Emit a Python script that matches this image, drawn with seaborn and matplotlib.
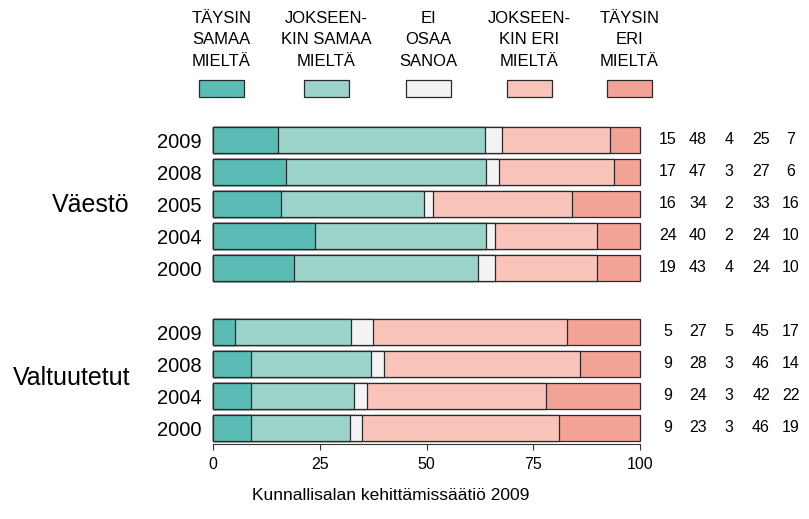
import matplotlib
matplotlib.use("Agg")
import matplotlib.pyplot as plt
from matplotlib.patches import Rectangle
import numpy as np
import pandas as pd
import seaborn as sns

# Survey answers (%), rows top to bottom: population then council members
groups = ["Väestö", "Valtuutetut"]
years_vaesto = ["2009", "2008", "2005", "2004", "2000"]
years_valtuutetut = ["2009", "2008", "2004", "2000"]

taysin_samaa = [15, 17, 16, 24, 19, 5, 9, 9, 9]
jokseenkin_samaa = [48, 47, 34, 40, 43, 27, 28, 24, 23]
ei_osaa = [4, 3, 2, 2, 4, 5, 3, 3, 3]
jokseenkin_eri = [25, 27, 33, 24, 24, 45, 46, 42, 46]
taysin_eri = [7, 6, 16, 10, 10, 17, 14, 22, 19]

answer_labels = [
    "TÄYSIN\nSAMAA\nMIELTÄ",
    "JOKSEEN-\nKIN SAMAA\nMIELTÄ",
    "EI\nOSAA\nSANOA",
    "JOKSEEN-\nKIN ERI\nMIELTÄ",
    "TÄYSIN\nERI\nMIELTÄ",
]
colors = ["#5bbcb6", "#9bd3cb", "#f3f3f3", "#f8c4ba", "#f3a395"]
source = "Kunnallisalan kehittämissäätiö 2009"

W, H = 809, 519
sns.set_style("white")
plt.rcParams["font.family"] = ["Liberation Sans", "DejaVu Sans"]
plt.rcParams["text.color"] = "black"
plt.rcParams["xtick.color"] = "black"
plt.rcParams["ytick.color"] = "black"

fig = plt.figure(figsize=(W / 100, H / 100), dpi=100)


def fx(px):
    return px / W


def fy(py):
    return 1 - py / H


ax = fig.add_axes([fx(213), fy(444), fx(640) - fx(213), fy(124) - fy(444)])

# Row positions with one empty slot between the two groups
positions = list(range(len(years_vaesto))) + [
    len(years_vaesto) + 1 + i for i in range(len(years_valtuutetut))
]
year_labels = years_vaesto + years_valtuutetut

series = np.array([taysin_samaa, jokseenkin_samaa, ei_osaa, jokseenkin_eri, taysin_eri], dtype=float)
shares = series / series.sum(axis=0) * 100
cumulative = np.cumsum(shares, axis=0)

# Stacked bars: draw the widest cumulative bar first, narrower ones on top
for k in range(len(colors) - 1, -1, -1):
    df = pd.DataFrame({"pos": positions, "cum": cumulative[k]})
    sns.barplot(
        data=df, x="cum", y="pos", orient="y", native_scale=True,
        color=colors[k], saturation=1, width=0.8, errorbar=None,
        edgecolor="#2a2a2a", linewidth=0.9, ax=ax,
    )
for p in ax.patches:
    p.set_clip_on(False)

ax.set_xlim(0, 100)
ax.set_ylim(9.5, -0.5)
ax.set_xlabel("")
ax.set_ylabel("")
ax.set_xticks([0, 25, 50, 75, 100])
ax.set_xticklabels(["0", "25", "50", "75", "100"], fontsize=11.5)
ax.set_yticks(positions)
ax.set_yticklabels(year_labels, fontsize=14.5)
ax.tick_params(axis="x", direction="out", length=4.5, width=0.8, color="#333333", pad=5, bottom=True)
ax.tick_params(axis="y", length=0, pad=8)
for side in ["left", "top", "right"]:
    ax.spines[side].set_visible(False)
ax.spines["bottom"].set_color("#333333")
ax.spines["bottom"].set_linewidth(0.8)

# Values printed to the right of each bar
col_px = [668, 698, 729, 761, 791]
for j, pos in enumerate(positions):
    for k, cx in enumerate(col_px):
        ax.text((cx - 213) / 4.27, pos, f"{int(series[k, j])}", ha="center", va="center",
                fontsize=11.5, clip_on=False)

# Group names
fig.text(fx(130), fy(205), groups[0], ha="right", va="center", fontsize=18)
fig.text(fx(130), fy(378), groups[1], ha="right", va="center", fontsize=18)

# Legend: three-line captions above colour keys
key_cx = [221.5, 326.5, 428.5, 529, 629.5]
line_base = [23, 44, 66]
for lab, cx, c in zip(answer_labels, key_cx, colors):
    for line, by in zip(lab.split("\n"), line_base):
        fig.text(fx(cx), fy(by), line, ha="center", va="baseline", fontsize=12)
    fig.patches.append(Rectangle((fx(cx - 22.5), fy(97)), fx(45), fy(80) - fy(97),
                                 transform=fig.transFigure, facecolor=c,
                                 edgecolor="#2a2a2a", linewidth=0.9))

fig.text(fx(391), fy(500), source, ha="center", va="baseline", fontsize=12.5)

fig.savefig("out.png", dpi=100)
